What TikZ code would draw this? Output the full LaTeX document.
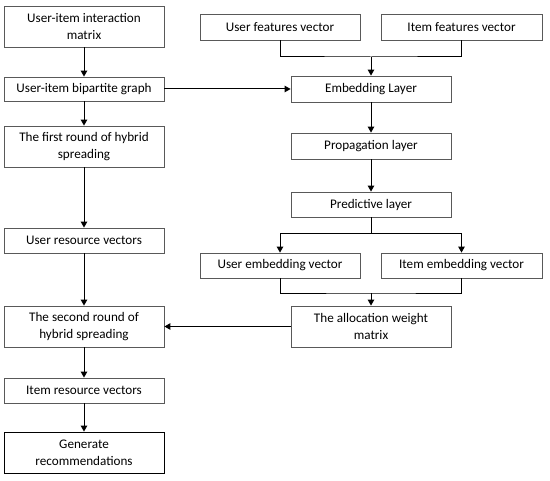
\documentclass[tikz,border=0pt]{standalone}
\usepackage{fontspec}
\setmainfont{Carlito}
\usepackage{tikz}
\usetikzlibrary{arrows.meta}

\tikzset{
	stepbox/.style={draw=gray!70!black, line width=0.8bp, align=center, inner sep=1bp,
		minimum width=160bp, font=\fontsize{13.2}{17}\selectfont},
	arr/.style={-{Triangle[length=6bp,width=6.5bp]}, line width=1bp}
}

\begin{document}
\begin{tikzpicture}[x=1bp, y=-1bp]
		\useasboundingbox (0,0) rectangle (550,481);
		
		% left column
		\node[stepbox, minimum height=41bp] (imat) at (84,26.5) {User-item interaction\\matrix};
		\node[stepbox, minimum height=24bp] (bgraph) at (84,89) {User-item bipartite graph};
		\node[stepbox, minimum height=41bp] (first) at (84,146.5) {The first round of hybrid\\spreading};
		\node[stepbox, minimum height=25bp] (ures) at (84,240.5) {User resource vectors};
		\node[stepbox, minimum height=41bp] (second) at (84,326.5) {The second round of\\hybrid spreading};
		\node[stepbox, minimum height=25bp] (ires) at (84,390.5) {Item resource vectors};
		\node[stepbox, draw=black, minimum height=41bp] (gen) at (84,452.5) {Generate\\recommendations};
		
		% right column
		\node[stepbox, minimum height=26bp] (ufeat) at (280,27) {User features vector};
		\node[stepbox, minimum height=26bp, minimum width=161bp] (ifeat) at (461.5,27) {Item features vector};
		\node[stepbox, minimum height=26bp] (embed) at (371,89) {Embedding Layer};
		\node[stepbox, minimum height=26bp] (prop) at (371,146) {Propagation layer};
		\node[stepbox, minimum height=25bp] (pred) at (371,204.5) {Predictive layer};
		\node[stepbox, minimum height=25bp] (uemb) at (280,265.5) {User embedding vector};
		\node[stepbox, minimum height=25bp, minimum width=161bp] (iemb) at (461.5,265.5) {Item embedding vector};
		\node[stepbox, minimum height=41bp] (alloc) at (371,326.5) {The allocation weight\\matrix};
		
		% junctions
		\coordinate (j1) at (371,57);
		\coordinate (j2) at (371,233);
		\coordinate (j3) at (371,293);
		
		% connectors
		\draw[arr] (imat) -- (bgraph);
		\draw[arr] (bgraph) -- (first);
		\draw[arr] (first) -- (ures);
		\draw[arr] (ures) -- (second);
		\draw[arr] (second) -- (ires);
		\draw[arr] (ires) -- (gen);
		
		\draw[line width=1bp] (ufeat) |- (j1) -| (ifeat);
		\draw[arr] (j1) -- (embed);
		\draw[arr] (bgraph) -- (embed);
		\draw[arr] (embed) -- (prop);
		\draw[arr] (prop) -- (pred);
		\draw[line width=1bp] (pred) -- (j2);
		\draw[arr] (j2) -| (uemb);
		\draw[arr] (j2) -| (iemb);
		\draw[line width=1bp] (uemb) |- (j3) -| (iemb);
		\draw[arr] (j3) -- (alloc);
		\draw[arr] (alloc) -- (second);
	\end{tikzpicture}
\end{document}
